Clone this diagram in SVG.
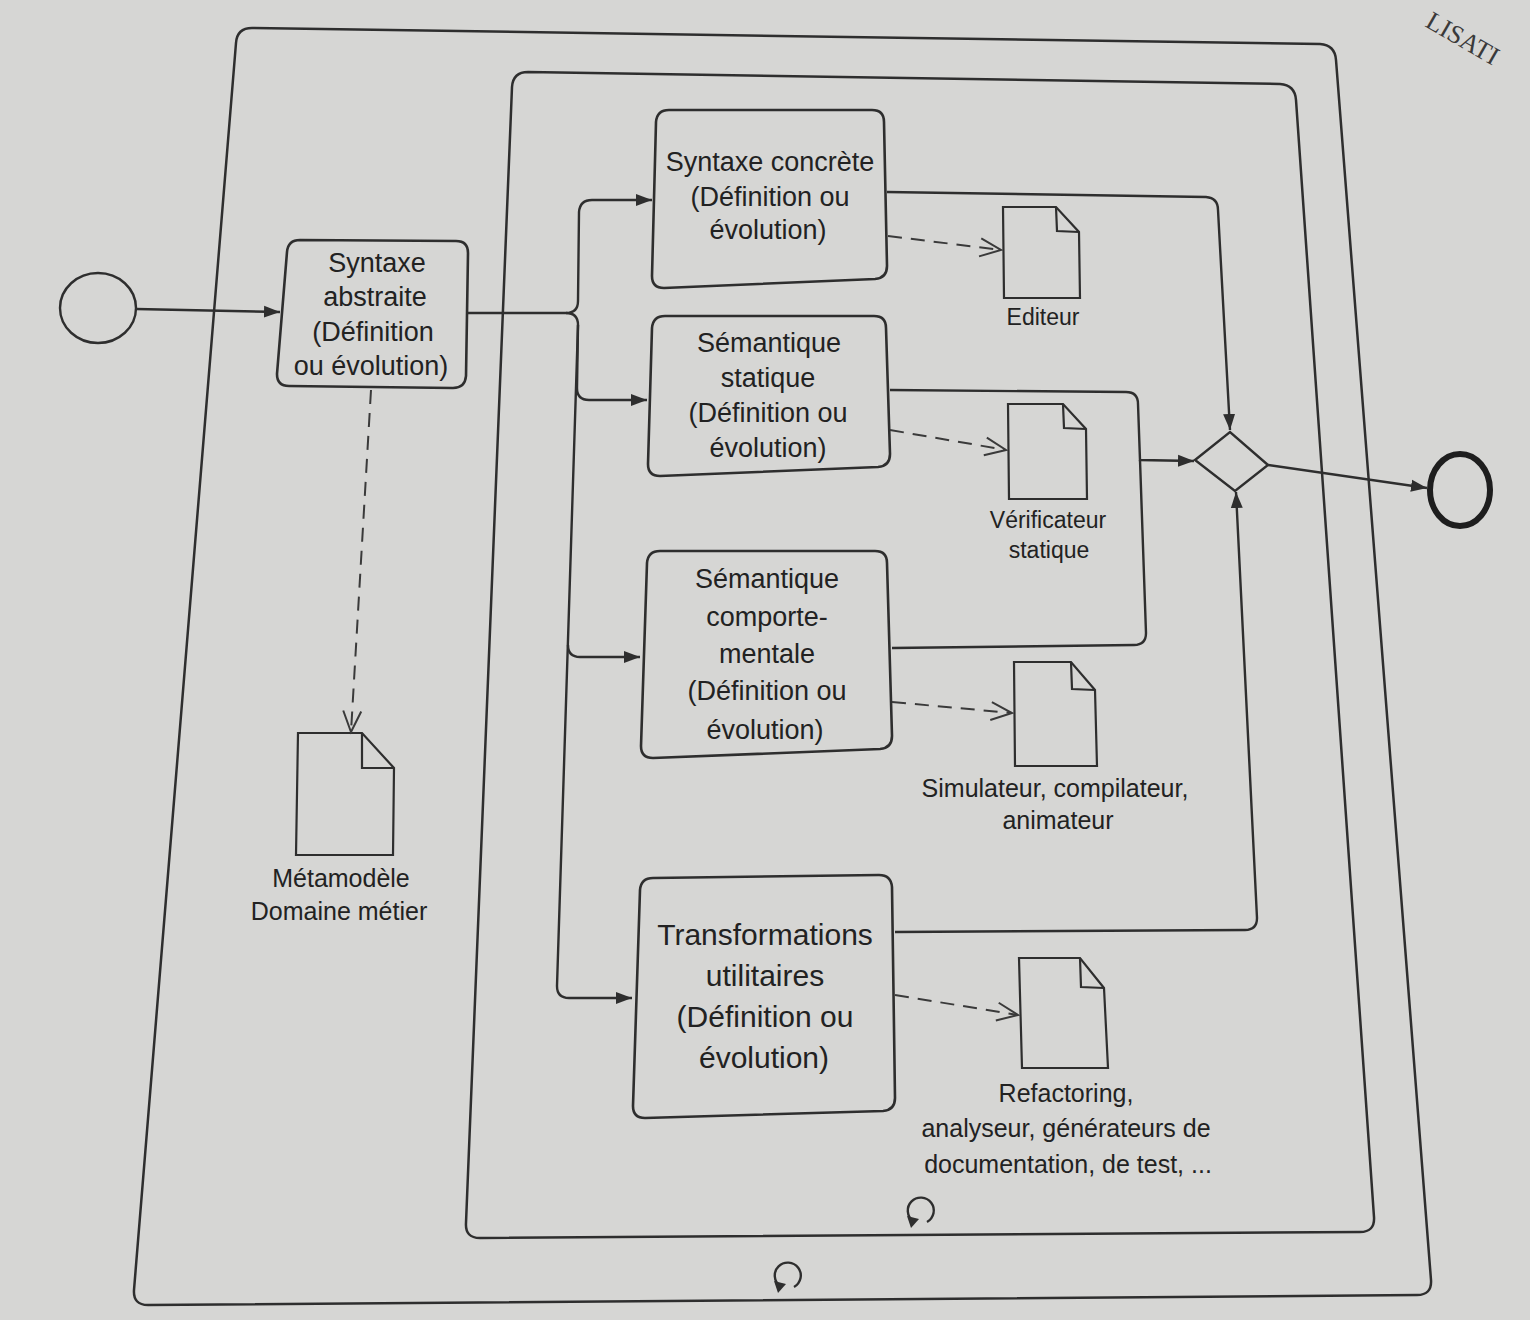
<svg xmlns="http://www.w3.org/2000/svg" width="1530" height="1320" viewBox="0 0 1530 1320">
<style>
.frame{fill:none;stroke:#2e2e2e;stroke-width:2.5}
.task{fill:none;stroke:#2e2e2e;stroke-width:2.6}
.doc{fill:none;stroke:#2e2e2e;stroke-width:2.2;stroke-linejoin:miter}
.flow{fill:none;stroke:#2e2e2e;stroke-width:2.4}
.assoc{fill:none;stroke:#3a3a3a;stroke-width:2;stroke-dasharray:14 9}
.t{font-family:"Liberation Sans",Arial,sans-serif;fill:#222222;text-anchor:middle}
.tb{font-size:27px}
.tl{font-size:25px}
</style>
<defs>
<marker id="arr" markerUnits="userSpaceOnUse" markerWidth="18" markerHeight="14" refX="16" refY="7" orient="auto">
<path d="M0,1 L16,7 L0,13 Z" fill="#2e2e2e"/>
</marker>
<marker id="open" markerUnits="userSpaceOnUse" markerWidth="26" markerHeight="22" refX="23" refY="11" orient="auto">
<path d="M2,2 L23,11 L2,20" fill="none" stroke="#3a3a3a" stroke-width="2"/>
</marker>
</defs>
<rect width="1530" height="1320" fill="#d6d6d4"/>
<text x="1424" y="26" transform="rotate(30 1424 26)" style="font-family:'Liberation Serif',serif;font-size:26px;fill:#3a3a3a">LISATI</text>

<g id="outer-pool">
<path class="frame" d="M252,28 L1320,44 Q1335,45 1336,60 L1431,1280 Q1432,1295 1417,1295 L148,1305 Q133,1305 134,1290 L236,43 Q237,28 252,28 Z"/>
<path class="flow" d="M780,1286 A13,13 0 1 1 794,1287" stroke-width="2.2"/>
<path d="M774,1281 L786,1284 L778,1293 Z" fill="#2e2e2e"/>
</g>
<g id="inner-pool">
<path class="frame" d="M528,72 L1280,84 Q1295,85 1296,100 L1374,1217 Q1375,1232 1360,1232 L480,1238 Q465,1238 466,1223 L512,87 Q513,72 528,72 Z"/>
<path class="flow" d="M913,1221 A13,13 0 1 1 927,1222" stroke-width="2.2"/>
<path d="M907,1216 L919,1219 L911,1228 Z" fill="#2e2e2e"/>
</g>

<g id="start">
<ellipse cx="98" cy="308" rx="38" ry="35" fill="none" stroke="#2e2e2e" stroke-width="2.4"/>
</g>
<g id="end">
<ellipse cx="1460" cy="490" rx="30" ry="36" fill="none" stroke="#1e1e1e" stroke-width="6"/>
</g>
<g id="gateway">
<path d="M1195,460 L1230,432 L1268,465 L1235,491 Z" fill="none" stroke="#2e2e2e" stroke-width="2.4"/>
</g>

<g id="syntaxe-abstraite">
<path class="task" d="M300,240 L456,241 Q468,241 468,253 L466,376 Q465,388 453,388 L289,386 Q277,386 277,374 L287,252 Q288,240 300,240 Z"/>
<text class="t tb" x="377" y="272">Syntaxe</text>
<text class="t tb" x="375" y="306">abstraite</text>
<text class="t tb" x="373" y="341">(Définition</text>
<text class="t tb" x="371" y="375">ou évolution)</text>
</g>
<g id="syntaxe-concrete">
<path class="task" d="M669,110 L872,110 Q884,110 884,122 L887,266 Q887,278 875,279 L664,288 Q652,288 652,276 L656,122 Q657,110 669,110 Z"/>
<text class="t tb" x="770" y="171">Syntaxe concrète</text>
<text class="t tb" x="770" y="206">(Définition ou</text>
<text class="t tb" x="768" y="239">évolution)</text>
</g>
<g id="semantique-statique">
<path class="task" d="M665,316 L874,316 Q886,316 886,328 L890,454 Q890,466 878,467 L660,476 Q648,476 648,464 L652,328 Q653,316 665,316 Z"/>
<text class="t tb" x="769" y="352">Sémantique</text>
<text class="t tb" x="768" y="387">statique</text>
<text class="t tb" x="768" y="422">(Définition ou</text>
<text class="t tb" x="768" y="457">évolution)</text>
</g>
<g id="semantique-comportementale">
<path class="task" d="M660,551 L875,551 Q887,551 887,563 L892,736 Q892,748 880,749 L653,758 Q641,758 641,746 L647,563 Q648,551 660,551 Z"/>
<text class="t tb" x="767" y="588">Sémantique</text>
<text class="t tb" x="767" y="626">comporte-</text>
<text class="t tb" x="767" y="663">mentale</text>
<text class="t tb" x="767" y="700">(Définition ou</text>
<text class="t tb" x="765" y="739">évolution)</text>
</g>
<g id="transformations">
<path class="task" d="M653,878 L879,875 Q891,875 892,887 L895,1098 Q895,1110 883,1111 L645,1118 Q633,1118 633,1106 L640,890 Q641,878 653,878 Z"/>
<text class="t" style="font-size:30px" x="765" y="945">Transformations</text>
<text class="t" style="font-size:30px" x="765" y="986">utilitaires</text>
<text class="t" style="font-size:30px" x="765" y="1027">(Définition ou</text>
<text class="t" style="font-size:30px" x="764" y="1068">évolution)</text>
</g>

<g id="doc-editeur">
<path class="doc" d="M1003,207 L1056,207 L1079,232 L1080,298 L1004,298 Z"/>
<path class="doc" d="M1056,207 L1057,231 L1079,232"/>
<text class="t" style="font-size:23px" x="1043" y="325">Editeur</text>
</g>
<g id="doc-verificateur">
<path class="doc" d="M1008,404 L1063,404 L1086,429 L1087,499 L1009,499 Z"/>
<path class="doc" d="M1063,404 L1064,428 L1086,429"/>
<text class="t" style="font-size:23px" x="1048" y="528">Vérificateur</text>
<text class="t" style="font-size:23px" x="1049" y="558">statique</text>
</g>
<g id="doc-simulateur">
<path class="doc" d="M1014,662 L1071,662 L1095,690 L1097,766 L1015,766 Z"/>
<path class="doc" d="M1071,662 L1072,689 L1095,690"/>
<text class="t tl" x="1055" y="797">Simulateur, compilateur,</text>
<text class="t tl" x="1058" y="829">animateur</text>
</g>
<g id="doc-refactoring">
<path class="doc" d="M1019,958 L1080,958 L1104,988 L1108,1068 L1022,1068 Z"/>
<path class="doc" d="M1080,958 L1081,987 L1104,988"/>
<text class="t tl" x="1066" y="1102">Refactoring,</text>
<text class="t tl" x="1066" y="1137">analyseur, générateurs de</text>
<text class="t tl" x="1068" y="1173">documentation, de test, ...</text>
</g>
<g id="doc-metamodele">
<path class="doc" d="M298,733 L362,733 L394,768 L393,855 L296,855 Z"/>
<path class="doc" d="M362,733 L362,768 L394,768"/>
<text class="t tl" x="341" y="887">Métamodèle</text>
<text class="t tl" x="339" y="920">Domaine métier</text>
</g>

<g id="connectors">
<path class="flow" d="M136,309 L280,312" marker-end="url(#arr)"/>
<path class="flow" d="M468,313 L566,313 Q578,313 578,301 L579,212 Q580,200 592,200 L652,200" marker-end="url(#arr)"/>
<path class="flow" d="M566,313 Q578,313 578,325 L577,388 Q577,400 589,400 L647,400" marker-end="url(#arr)"/>
<path class="flow" d="M578,325 L557,986 Q557,998 569,998 L632,998" marker-end="url(#arr)"/>
<path class="flow" d="M568,645 Q568,657 580,657 L640,657" marker-end="url(#arr)"/>
<path class="flow" d="M887,192 L1206,197 Q1218,198 1218,210 L1230,430" marker-end="url(#arr)"/>
<path class="flow" d="M890,390 L1126,392 Q1138,392 1138,404 L1140,460 L1194,461" marker-end="url(#arr)"/>
<path class="flow" d="M892,648 L1134,645 Q1146,645 1146,633 L1140,460"/>
<path class="flow" d="M895,932 L1245,930 Q1257,930 1257,918 L1236,492" marker-end="url(#arr)"/>
<path class="flow" d="M1268,465 L1427,488" marker-end="url(#arr)"/>
<path class="assoc" d="M888,236 L1001,250" marker-end="url(#open)"/>
<path class="assoc" d="M890,430 L1006,450" marker-end="url(#open)"/>
<path class="assoc" d="M892,702 L1012,713" marker-end="url(#open)"/>
<path class="assoc" d="M895,995 L1018,1015" marker-end="url(#open)"/>
<path class="assoc" d="M371,390 L351,732" marker-end="url(#open)"/>
</g>
</svg>
